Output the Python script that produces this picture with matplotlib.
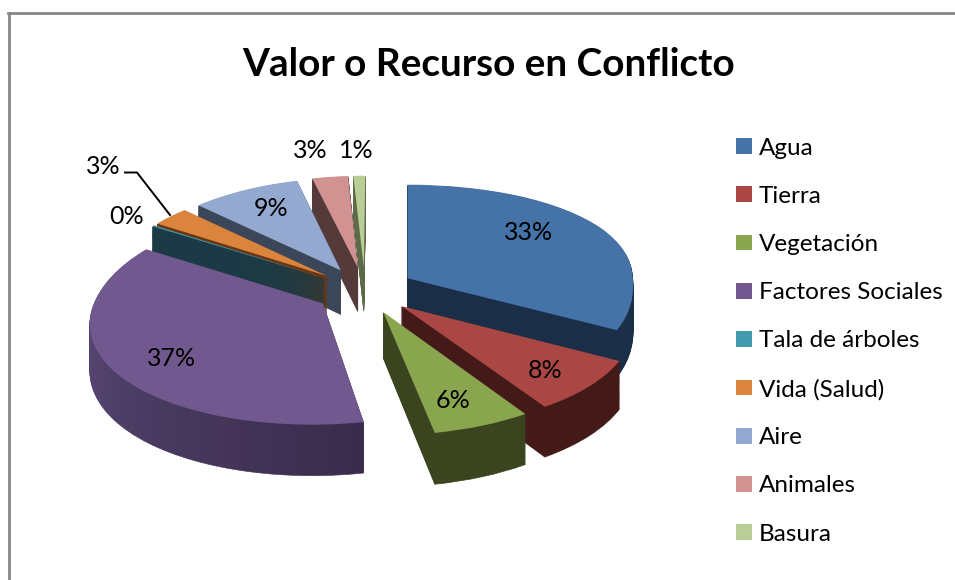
import numpy as np
import matplotlib
matplotlib.use("Agg")
import matplotlib.pyplot as plt
from matplotlib.lines import Line2D
from matplotlib.patches import Wedge
from matplotlib.transforms import Transform
from matplotlib.colors import to_rgb

# ---- data ----
categories = ["Agua", "Tierra", "Vegetación", "Factores Sociales", "Tala de árboles",
              "Vida (Salud)", "Aire", "Animales", "Basura"]
values = [33, 8, 6, 37, 0.2, 3, 9, 3, 1]
title = "Valor o Recurso en Conflicto"

# ---- style ----
top_colors = ["#4572A7", "#AA4643", "#89A54E", "#71588F", "#4198AF",
              "#DB843D", "#93A9CF", "#D19392", "#B9CD96"]
wall_colors = ["#1B2E47", "#431A18", "#3A451F", "#3A2D4D", "#1B3B47",
               "#6A3510", "#3B4659", "#553A3A", "#5B6B48"]
paint_order = [8, 7, 6, 5, 4, 3, 0, 1, 2]   # back to front
label_px = [(529, 232), (545, 370), (453, 400), (172, 358), (127, 216),
            (103, 166), (271, 208), (310, 150), (356, 150)]

W, H = 955, 580
CX, CY, R = 365, 290, 225
EXPLODE = 0.22
K, S = 0.1044, 0.4695
KX, SHEAR_FRONT, SHEAR_BACK = 0.143, 0.018, 0.006
DEPTH = 45 / R
FONT = "Lato"

def fx(x): return x / W
def fy(y): return 1 - y / H


class Tilt(Transform):
    input_dims = output_dims = 2
    is_affine = False

    def __init__(self, z=0.0):
        super().__init__()
        self.z = z

    def transform_non_affine(self, xy):
        xy = np.asarray(xy, float)
        x, y = xy[:, 0], xy[:, 1]
        d = 1 + K * y
        back_right = (x > 0) & (y > 0)
        dx = np.where(back_right, 1.0, 1 + KX * y)
        shear = np.where(y < 0, SHEAR_FRONT * y, np.where(x < 0, SHEAR_BACK * y, 0.0))
        return np.column_stack([x / dx + shear, (S * y - self.z) / d])


fig = plt.figure(figsize=(W / 100, H / 100), dpi=100, facecolor="white")
ax = fig.add_axes([0, 0, 1, 1])


def limits():
    ax.set_aspect("auto")
    ax.set_xlim(-CX / R, (W - CX) / R)
    ax.set_ylim(-(H - CY) / R, CY / R)
    ax.axis("off")


def purple_shade(t):
    """t = 0 at the right end of the outer wall, 1 at the left end."""
    stops = [0, 0.5, 0.85, 1]
    cols = np.array([to_rgb(c) for c in ("#3A2C4C", "#4F3F69", "#604E7E", "#5A4876")])
    return tuple(np.interp(t, stops, cols[:, j]) for j in range(3))


explode = [EXPLODE] * len(values)
zs = np.linspace(DEPTH, 0, 46)
purple = categories.index("Factores Sociales")
top_wedges = None
for layer, z in enumerate(zs):
    wedges, _ = ax.pie(values, explode=explode, startangle=90, counterclock=False, radius=1)
    is_top = layer == len(zs) - 1
    tr = Tilt(z) + ax.transData
    for i, w in enumerate(wedges):
        rank = paint_order.index(i)
        w.set_transform(tr)
        w.set_clip_on(False)
        w.set_linewidth(0)
        if is_top:
            w.set_facecolor(top_colors[i])
            w.set_zorder(100 * rank + 60)
        elif i == purple:
            # wall of this slice is shaded sector by sector
            w.set_visible(False)
            n = 40
            edges = np.linspace(w.theta1, w.theta2, n + 1)
            for k in range(n):
                t = (n - 1 - k) / (n - 1)
                col = purple_shade(t)
                sub = Wedge(w.center, w.r, edges[k], edges[k + 1], facecolor=col,
                            edgecolor=col, linewidth=0.4,
                            zorder=100 * rank + layer * 0.5, clip_on=False)
                ax.add_patch(sub)
                sub.set_transform(tr)
        else:
            w.set_facecolor(wall_colors[i])
            w.set_edgecolor(wall_colors[i])
            w.set_linewidth(0.5)
            w.set_zorder(100 * rank + layer * 0.5)
    if is_top:
        top_wedges = wedges
    limits()

# percentage labels
for v, (lx, ly) in zip(values, label_px):
    fig.text(fx(lx), fy(ly), f"{round(v)}%", ha="center", va="center",
             fontsize=18, family=FONT, color="black", zorder=5)

# leader line for Vida (Salud)
fig.add_artist(Line2D([fx(125), fx(137), fx(170)], [fy(172.5), fy(172.5), fy(215)],
                      color="black", lw=1.4))

# title
fig.text(fx(488.5), fy(64.5), title, ha="center", va="center", fontsize=27.9,
         fontweight="bold", family=FONT, color="black")

# legend
legend = fig.legend(top_wedges, categories, loc="upper left",
                    bbox_to_anchor=(fx(725.9), fy(128)), frameon=False,
                    prop={"family": FONT, "size": 17.5},
                    handlelength=0.66, handleheight=0.62, handletextpad=0.29,
                    labelspacing=1.118, borderpad=0.4, borderaxespad=0)

# chart frame
frame = "#868686"
fig.add_artist(Line2D([fx(8.5), fx(8.5)], [fy(580), fy(13)], color=frame, lw=2))
fig.add_artist(Line2D([fx(7.5), fx(955)], [fy(13), fy(13)], color=frame, lw=2))

fig.savefig("out.png", dpi=100)
